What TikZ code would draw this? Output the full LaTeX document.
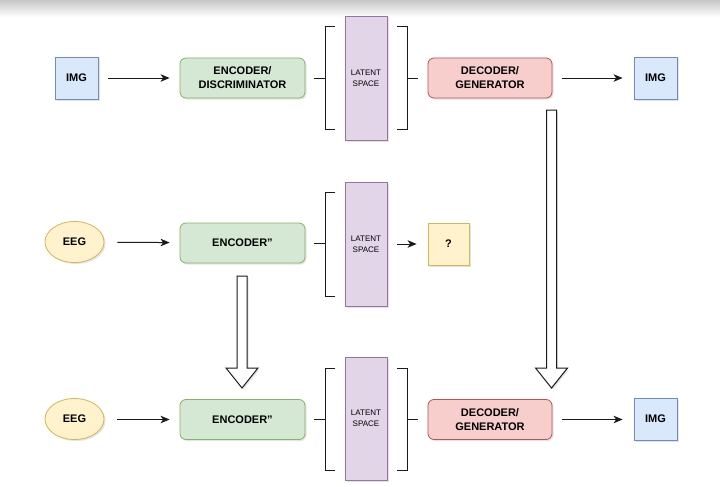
\documentclass[tikz,border=0pt]{standalone}
\usepackage{fontspec}
\setmainfont{Liberation Sans}
\usetikzlibrary{shapes.geometric,arrows.meta,shadows}
\definecolor{bluef}{HTML}{DAE8FC}\definecolor{blued}{HTML}{6C8EBF}
\definecolor{greenf}{HTML}{D5E8D4}\definecolor{greend}{HTML}{82B366}
\definecolor{redf}{HTML}{F8CECC}\definecolor{redd}{HTML}{B85450}
\definecolor{yelf}{HTML}{FFF2CC}\definecolor{yeld}{HTML}{D6B656}
\definecolor{purf}{HTML}{E1D5E7}\definecolor{purd}{HTML}{9673A6}
\definecolor{ln}{HTML}{1A1A1A}
\begin{document}
\begin{tikzpicture}[x=1pt,y=-1pt,
  shd/.style={drop shadow={shadow xshift=1.5pt,shadow yshift=-1.5pt,opacity=0.22}},
  base/.style={shd,line width=0.8pt,inner sep=0pt,align=center,
    font=\bfseries\fontsize{11}{14}\selectfont},
  imgbox/.style={base,draw=blued,fill=bluef,minimum width=43pt,minimum height=42pt},
  encbox/.style={base,draw=greend,fill=greenf,rounded corners=6pt,minimum width=125pt,minimum height=40pt},
  decbox/.style={base,draw=redd,fill=redf,rounded corners=6pt,minimum width=124pt,minimum height=40pt},
  eeg/.style={base,ellipse,draw=yeld,fill=yelf,minimum width=59pt,minimum height=41pt},
  qbox/.style={base,draw=yeld,fill=yelf,minimum width=41pt,minimum height=42pt},
  latent/.style={shd,draw=purd,fill=purf,line width=0.8pt,inner sep=0pt,align=center,
    minimum width=42pt,minimum height=124pt,font=\fontsize{8}{11}\selectfont},
  brk/.style={draw=ln,line width=1pt},
  arr/.style={draw=ln,line width=1pt,-{Stealth[length=9pt,width=7.5pt,inset=2.5pt]}},
  blk/.style={shd,draw=ln,fill=white,line width=1pt,line join=miter}
]
\useasboundingbox (0,0) rectangle (720,487);
\fill[white] (0,0) rectangle (720,487);
\shade[top color=black!22,bottom color=white] (0,0) rectangle (720,17);

% Row 1
\node[imgbox] (img1) at (76.5,78) {IMG};
\node[encbox] (enc1) at (242.5,78) {ENCODER/\\DISCRIMINATOR};
\node[latent] (lat1) at (366,78) {LATENT\\SPACE};
\node[decbox] (dec1) at (490,78) {DECODER/\\GENERATOR};
\node[imgbox] (img2) at (655.5,78) {IMG};
\coordinate (lb1) at (325,78);
\coordinate (rb1) at (407,78);
\draw[brk] (335,27) -- (325,27) -- (325,129) -- (335,129);
\draw[brk] (397,27) -- (407,27) -- (407,129) -- (397,129);
\draw[arr,shorten <=10pt,shorten >=10pt] (img1) -- (enc1);
\draw[brk,shorten <=9pt] (enc1.east) -- (lb1);
\draw[brk,shorten >=10pt] (rb1) -- (dec1.west);
\draw[arr,shorten <=10pt,shorten >=11pt] (dec1) -- (img2);

% Row 2
\node[eeg] (eeg1) at (74.5,242) {EEG};
\node[encbox] (enc2) at (242.5,243) {ENCODER\symbol{34}};
\node[latent] (lat2) at (366,244) {LATENT\\SPACE};
\node[qbox] (q) at (448.5,244) {?};
\coordinate (lb2) at (325,243);
\draw[brk] (335,192) -- (325,192) -- (325,296) -- (335,296);
\draw[arr,shorten <=13pt,shorten >=10pt] (eeg1) -- (enc2);
\draw[brk,shorten <=9pt] (enc2.east) -- (lb2);
\draw[arr,shorten <=10pt,shorten >=11pt] (lat2.east |- q.west) -- (q.west);

% Row 3
\node[eeg] (eeg2) at (74.5,419) {EEG};
\node[encbox] (enc3) at (242.5,419.5) {ENCODER\symbol{34}};
\node[latent,minimum height=123pt] (lat3) at (366,418.5) {LATENT\\SPACE};
\node[decbox] (dec3) at (490,419.5) {DECODER/\\GENERATOR};
\node[imgbox] (img3) at (655.5,419) {IMG};
\coordinate (lb3) at (325,419.5);
\coordinate (rb3) at (407,419.5);
\draw[brk] (335,368) -- (325,368) -- (325,470) -- (335,470);
\draw[brk] (397,368) -- (407,368) -- (407,470) -- (397,470);
\draw[arr,shorten <=13pt,shorten >=10pt] (eeg2.east |- enc3.west) -- (enc3.west);
\draw[brk,shorten <=9pt] (enc3.east) -- (lb3);
\draw[brk,shorten >=10pt] (rb3) -- (dec3.west);
\draw[arr,shorten <=10pt,shorten >=11pt] (dec3.east) -- (img3.west |- dec3.east);

% Block arrows
\draw[blk] (237,276) -- (247,276) -- (247,368) -- (258,368) -- (242,388)
  -- (226,368) -- (237,368) -- cycle;
\draw[blk] (546.5,110) -- (556.5,110) -- (556.5,368) -- (567.5,368) -- (551.5,388)
  -- (535.5,368) -- (546.5,368) -- cycle;
\end{tikzpicture}
\end{document}
